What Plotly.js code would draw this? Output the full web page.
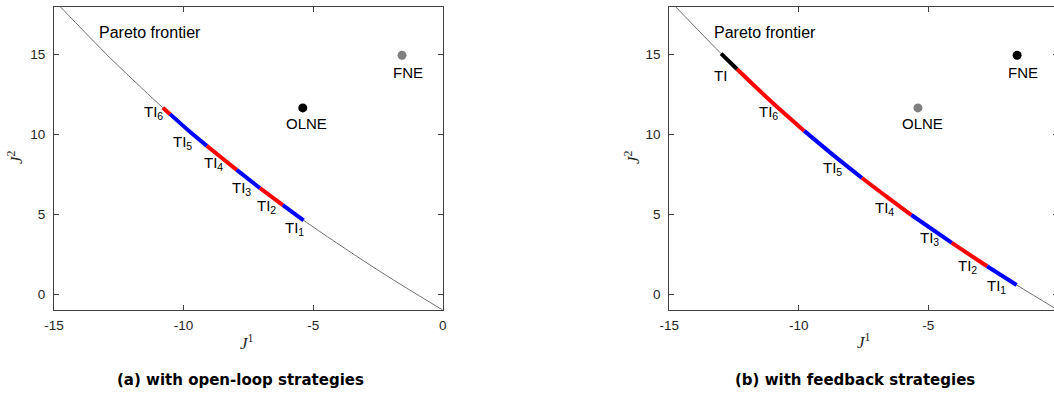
<!DOCTYPE html>
<html>
<head>
<meta charset="utf-8">
<script src="https://cdn.plot.ly/plotly-3.0.1.min.js"></script>
<style>
html, body { margin: 0; padding: 0; overflow: hidden; background: #fff; }
#chart { width: 1064px; height: 394px; }
</style>
</head>
<body>
<div id="chart"></div>
<script>
// ---- Data ----
const frontierJ1 = [-15.3, -14.8, -13.0, -12.38, -10.80, -9.79, -9.10, -7.56, -7.05, -5.65, -5.37, -4.09, -2.73, -1.59, 0];
const frontierJ2 = [18.92, 18.07, 15.06, 14.08, 11.67, 10.22, 9.28, 7.27, 6.63, 4.95, 4.62, 3.20, 1.74, 0.57, -1.0];

// (a) open-loop: segments TI6..TI1
const olSegJ1 = [[-10.80, -10.52], [-10.52, -9.80, -9.10], [-9.10, -8.52, -7.95], [-7.95, -7.05], [-7.05, -6.17], [-6.17, -5.37]];
const olSegJ2 = [[11.67, 11.27], [11.27, 10.23, 9.28], [9.28, 8.52, 7.78], [7.78, 6.63], [6.63, 5.57], [5.57, 4.62]];
const olSegColor = ['#ff0000', '#0000ff', '#ff0000', '#0000ff', '#ff0000', '#0000ff'];
const olLabels = ['TI<sub>6</sub>', 'TI<sub>5</sub>', 'TI<sub>4</sub>', 'TI<sub>3</sub>', 'TI<sub>2</sub>', 'TI<sub>1</sub>'];
const olLabelJ1 = [-11.61, -10.49, -9.30, -8.20, -7.24, -6.15];
const olLabelJ2 = [11.38, 9.50, 8.17, 6.59, 5.50, 4.12];

// (b) feedback: segments TI, TI6..TI1
const fbSegJ1 = [[-13.0, -12.38], [-12.38, -11.1, -9.79], [-9.79, -8.68, -7.56], [-7.56, -6.6, -5.65], [-5.65, -4.09], [-4.09, -2.73], [-2.73, -1.59]];
const fbSegJ2 = [[15.06, 14.08], [14.08, 12.11, 10.22], [10.22, 8.72, 7.27], [7.27, 6.09, 4.95], [4.95, 3.20], [3.20, 1.74], [1.74, 0.57]];
const fbSegColor = ['#000000', '#ff0000', '#0000ff', '#ff0000', '#0000ff', '#ff0000', '#0000ff'];
const fbLabels = ['TI', 'TI<sub>6</sub>', 'TI<sub>5</sub>', 'TI<sub>4</sub>', 'TI<sub>3</sub>', 'TI<sub>2</sub>', 'TI<sub>1</sub>'];
const fbLabelJ1 = [-13.35, -11.62, -9.15, -7.13, -5.40, -3.92, -2.83];
const fbLabelJ2 = [13.68, 11.38, 7.84, 5.33, 3.45, 1.74, 0.48];

// Equilibria
const eqNames = ['OLNE', 'FNE'];
const eqJ1 = [-5.40, -1.57];
const eqJ2 = [11.66, 14.96];
const eqLabelJ1 = [-5.24, -1.33];
const eqLabelJ2 = [10.68, 13.89];
const olEqColor = ['#000000', '#808080'];
const fbEqColor = ['#808080', '#000000'];

const paretoLabel = 'Pareto frontier';
const paretoLabelJ1 = -13.35, paretoLabelJ2 = 16.40;

const xTickVals = [-15, -10, -5, 0];
const xTickText = ['-15', '-10', '-5', '0'];
const yTickVals = [0, 5, 10, 15];
const yTickText = ['0', '5', '10', '15'];
const captions = ['(a) with open-loop strategies', '(b) with feedback strategies'];

// ---- Build ----
const W = 1064, H = 394;
const SANS = 'Liberation Sans, Arial, Helvetica, sans-serif';
const traces = [];
function addPanel(xa, ya, segJ1, segJ2, segColor, eqColor) {
  traces.push({x: frontierJ1, y: frontierJ2, xaxis: xa, yaxis: ya, mode: 'lines',
    line: {color: '#707070', width: 1, shape: 'spline', smoothing: 1}, hoverinfo: 'skip'});
  segJ1.forEach((s, i) => {
    traces.push({x: s, y: segJ2[i], xaxis: xa, yaxis: ya, mode: 'lines',
      line: {color: segColor[i], width: 4, shape: 'spline', smoothing: 1}, hoverinfo: 'skip'});
  });
  traces.push({x: eqJ1, y: eqJ2, xaxis: xa, yaxis: ya, mode: 'markers',
    marker: {color: eqColor, size: 9, line: {width: 0}}, hoverinfo: 'skip'});
}
addPanel('x', 'y', olSegJ1, olSegJ2, olSegColor, olEqColor);
addPanel('x2', 'y2', fbSegJ1, fbSegJ2, fbSegColor, fbEqColor);

const annotations = [];
function addLabels(xr, yr, texts, xs, ys) {
  texts.forEach((t, i) => annotations.push({xref: xr, yref: yr, x: xs[i], y: ys[i], text: t,
    showarrow: false, xanchor: 'left', yanchor: 'middle', yshift: 0,
    font: {family: SANS, size: 15, color: '#000'}}));
}
addLabels('x', 'y', olLabels, olLabelJ1, olLabelJ2);
addLabels('x2', 'y2', fbLabels, fbLabelJ1, fbLabelJ2);
[['x', 'y'], ['x2', 'y2']].forEach(([xr, yr]) => {
  eqNames.forEach((n, i) => annotations.push({xref: xr, yref: yr, x: eqLabelJ1[i], y: eqLabelJ2[i], text: n,
    showarrow: false, xanchor: 'center', yanchor: 'middle', font: {family: SANS, size: 15, color: '#000'}}));
  annotations.push({xref: xr, yref: yr, x: paretoLabelJ1, y: paretoLabelJ2, text: paretoLabel,
    showarrow: false, xanchor: 'left', yanchor: 'middle', font: {family: SANS, size: 16, color: '#000'}});
});
// axis titles
const SERIF = 'Liberation Serif, Times New Roman, serif';
[[247, 342], [864, 341]].forEach(([px, py]) => annotations.push({xref: 'paper', yref: 'paper',
  x: px / W, y: 1 - py / H, text: '<i>J</i><sup>1</sup>', showarrow: false, xanchor: 'center', yanchor: 'middle',
  font: {family: SERIF, size: 17, color: '#262626'}}));
[[15, 157], [632, 157]].forEach(([px, py]) => annotations.push({xref: 'paper', yref: 'paper',
  x: px / W, y: 1 - py / H, text: '<i>J</i><sup>2</sup>', showarrow: false, textangle: -90, xanchor: 'center', yanchor: 'middle',
  font: {family: SERIF, size: 17, color: '#262626'}}));
// captions
[[240, 380], [855, 380]].forEach(([px, py], i) => annotations.push({xref: 'paper', yref: 'paper',
  x: px / W, y: 1 - py / H, text: '<b>' + captions[i] + '</b>', showarrow: false, xanchor: 'center', yanchor: 'middle',
  font: {family: 'DejaVu Sans, sans-serif', size: 15, color: '#000'}}));

function xax(domain, anchor) {
  return {domain: domain, anchor: anchor, range: [-15, 0], tickvals: xTickVals, ticktext: xTickText,
    ticks: 'inside', ticklen: 5, tickcolor: '#404040', showline: true, linecolor: '#404040', linewidth: 1,
    mirror: 'ticks', showgrid: false, zeroline: false, ticklabelstandoff: 3,
    tickfont: {family: SANS, size: 13.5, color: '#262626'}, fixedrange: true};
}
function yax(anchor) {
  return {domain: [1 - 310 / H, 1 - 6.7 / H], anchor: anchor, range: [-1, 18], tickvals: yTickVals, ticktext: yTickText,
    ticks: 'inside', ticklen: 5, tickcolor: '#404040', showline: true, linecolor: '#404040', linewidth: 1,
    mirror: 'ticks', showgrid: false, zeroline: false, ticklabelstandoff: 5,
    tickfont: {family: SANS, size: 13.5, color: '#262626'}, fixedrange: true};
}
const layout = {
  width: W, height: H, margin: {l: 0, r: 0, t: 0, b: 0}, showlegend: false,
  paper_bgcolor: '#fff', plot_bgcolor: '#fff',
  xaxis: xax([54 / W, 442.7 / W], 'y'), yaxis: yax('x'),
  xaxis2: xax([669.3 / W, 1057.8 / W], 'y2'), yaxis2: yax('x2'),
  annotations: annotations
};
Plotly.newPlot('chart', traces, layout, {staticPlot: true, displayModeBar: false});
</script>
</body>
</html>
